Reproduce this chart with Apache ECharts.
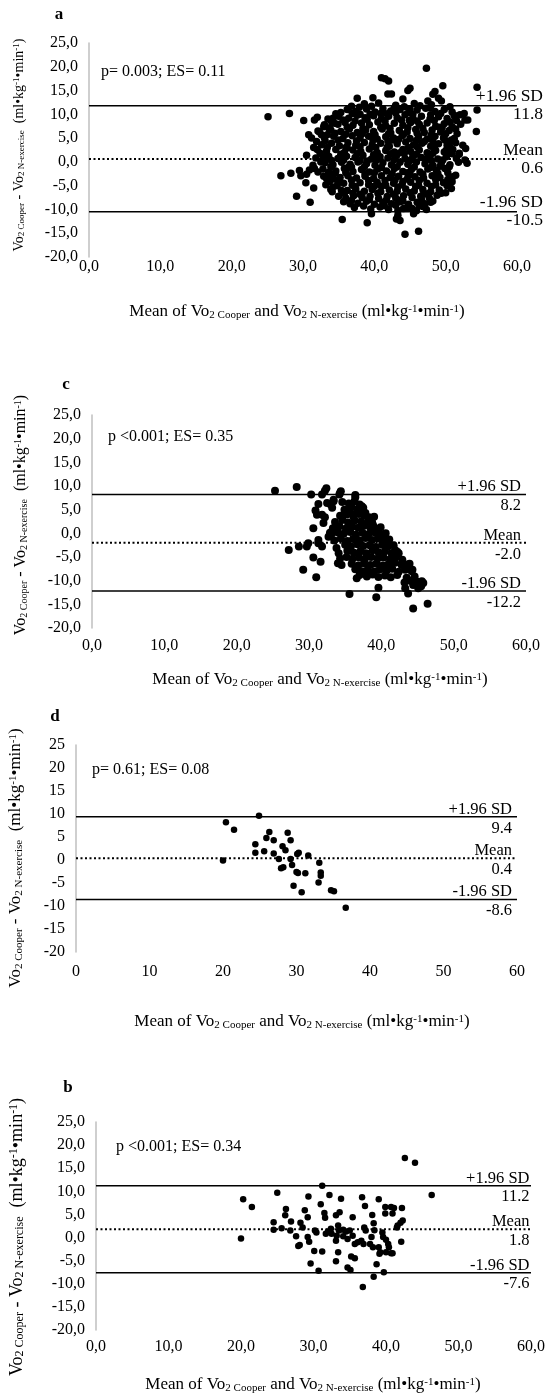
<!DOCTYPE html>
<html><head><meta charset="utf-8">
<script src="https://cdn.jsdelivr.net/npm/echarts@6/dist/echarts.min.js"></script>
<style>html,body{margin:0;padding:0;background:#fff}#c{width:548px;height:1399px}</style>
</head><body><div id="c"></div>
<script>
// ---------------- DATA ----------------
const xTicks = [0, 10, 20, 30, 40, 50, 60];
const yTicks = [-20, -15, -10, -5, 0, 5, 10, 15, 20, 25];
const limitNames = ['+1.96 SD', 'Mean', '-1.96 SD'];

const limitsA = [11.8, 0.6, -10.5];
const limitsC = [8.2, -2.0, -12.2];
const limitsD = [9.4, 0.4, -8.6];
const limitsB = [11.2, 1.8, -7.6];

const statA = 'p= 0.003; ES= 0.11';
const statC = 'p <0.001; ES= 0.35';
const statD = 'p= 0.61; ES= 0.08';
const statB = 'p <0.001; ES= 0.34';

// panel a: [mean of the two methods, difference]
const diffA = [
[25.1,9.5],[28.1,10.2],[30.1,8.7],[31.6,8.8],[32.0,9.4],[30.8,5.7],[31.2,5.0],[31.9,4.3],[32.1,6.5],[31.5,3.0],[32.0,2.6],[33.0,7.8],[33.4,5.7],[34.2,9.2],[34.4,8.1],[33.9,6.7],[30.5,1.4],[26.9,-2.9],[28.3,-2.4],[29.5,-1.8],[29.7,-2.9],[30.5,-2.6],[30.4,-4.4],[30.9,-1.7],[31.6,-1.4],[31.4,-0.7],[31.5,-5.5],[29.1,-7.2],[31.0,-8.5],[32.1,-2.1],[32.5,0.0],[32.8,1.1],[33.3,-3.5],[33.7,-4.2],[34.1,-2.8],[34.2,-5.3],[34.1,-6.3],[35.4,-6.0],[34.9,-4.2],[36.6,-8.8],[35.5,-12.1],[37.6,13.4],
[47.3,19.7],[41.0,17.7],[41.5,17.5],[42.0,17.0],[45.0,15.5],[44.7,15.0],[49.6,16.0],[41.9,14.3],[42.4,14.3],[48.5,14.8],[48.2,14.2],[39.8,13.5],[44.0,13.2],[47.5,12.8],[49.0,13.4],[49.4,12.8],[50.6,11.6],[52.7,8.8],[53.1,8.8],[52.0,9.9],[51.3,9.5],[52.4,3.5],[52.7,0.4],[53.0,-0.3],[51.0,-3.1],[50.9,-4.2],[50.8,-5.6],[47.3,-10.0],[43.3,-10.2],[43.1,-12.0],[43.6,-12.3],[39.0,-12.8],[44.3,-15.2],[46.2,-14.6],[54.4,15.7],[54.4,10.9],[54.3,6.4],[51.4,-2.8],[39.6,-10.9],[45.3,-9.8],[45.5,-10.9],[43.3,-11.2],[51.5,0.7],[51.9,1.8],[50.5,3.5],[50.1,2.5],
[38.6,12.2],[40.6,12.4],[43.0,11.9],[45.6,12.3],[46.4,11.8],[48.0,12.0],[36.8,11.7],
[35.3,10.4],[36.2,11.0],[37.4,10.6],[38.9,11.1],[40.1,10.5],[41.2,11.2],[42.3,10.7],[43.6,11.0],[44.8,10.4],[46.0,10.9],[47.2,11.3],[48.5,10.6],[49.8,11.0],[50.9,10.5],[52.6,10.2],
[33.5,9.0],[35.0,9.6],[36.4,9.2],[37.6,9.8],[38.7,9.3],[39.9,9.7],[41.0,9.1],[42.0,9.6],[43.2,9.3],[44.3,9.9],[45.4,9.2],[46.6,9.6],[47.8,9.0],[49.0,9.5],[50.2,9.1],[51.5,8.7],
[32.9,7.4],[34.9,7.9],[35.9,8.3],[37.0,7.7],[38.2,8.2],[39.3,7.8],[40.5,8.4],[41.6,7.6],[42.8,8.1],[44.0,7.7],[45.1,8.3],[46.3,7.9],[47.4,8.2],[48.6,7.5],[49.8,8.0],[50.9,7.4],[52.1,7.9],
[32.3,6.3],[33.7,6.8],[35.3,6.4],[36.5,6.9],[37.6,6.2],[38.8,6.7],[39.9,6.4],[41.1,6.9],[42.3,6.1],[43.5,6.6],[44.6,6.3],[45.8,6.8],[47.0,6.2],[48.1,6.7],[49.3,6.3],[50.5,6.6],[51.6,5.9],
[33.0,5.1],[34.3,5.4],[35.6,4.9],[36.9,5.5],[38.0,5.0],[39.2,5.4],[40.4,4.8],[41.6,5.3],[42.7,5.0],[43.9,5.5],[45.0,4.9],[46.2,5.3],[47.4,4.8],[48.5,5.4],[49.7,5.0],[50.8,4.6],
[32.6,3.6],[34.0,3.9],[35.1,3.4],[36.3,4.0],[37.4,3.5],[38.6,4.1],[39.7,3.6],[40.9,3.9],[42.1,3.3],[43.2,3.8],[44.4,4.2],[45.5,3.6],[46.7,3.9],[47.9,3.3],[49.0,3.8],[50.2,3.5],[51.4,4.0],[52.8,2.8],
[33.3,2.3],[34.6,2.6],[35.8,2.0],[37.0,2.5],[38.1,2.2],[39.3,2.7],[40.4,2.0],[41.6,2.4],[42.8,2.1],[44.0,2.6],[45.1,2.2],[46.3,2.5],[47.4,1.9],[48.6,2.4],[49.8,2.1],[51.0,2.6],[51.9,1.6],
[31.8,0.8],[33.6,1.2],[34.9,0.7],[36.1,1.2],[37.3,0.9],[38.4,1.4],[39.6,0.6],[40.8,1.1],[41.9,0.8],[43.1,1.3],[44.3,0.7],[45.4,1.2],[46.6,0.9],[47.8,1.4],[48.9,0.6],[50.1,1.1],[50.9,1.7],
[33.1,-0.2],[34.2,-0.6],[35.4,-0.1],[36.6,-0.5],[37.7,0.0],[38.9,-0.4],[40.1,-0.7],[41.2,-0.2],[42.4,-0.6],[43.6,-0.1],[44.7,-0.5],[45.9,0.0],[47.1,-0.4],[48.2,-0.7],[49.4,-0.2],[50.6,-0.6],[51.8,-0.1],
[32.8,-1.5],[34.6,-1.9],[35.8,-1.4],[37.0,-2.0],[38.2,-1.6],[39.3,-2.1],[40.5,-1.5],[41.7,-1.9],[42.8,-1.4],[44.0,-2.0],[45.2,-1.6],[46.4,-2.1],[47.5,-1.5],[48.7,-1.8],[49.9,-1.4],[50.3,-2.3],
[32.9,-3.0],[35.2,-3.3],[36.3,-2.9],[37.5,-3.4],[38.7,-3.0],[39.9,-3.5],[41.0,-2.9],[42.2,-3.3],[43.4,-3.0],[44.6,-3.6],[45.7,-3.1],[46.9,-3.4],[48.1,-2.9],[49.2,-3.3],[50.3,-3.7],
[33.2,-4.8],[35.7,-4.5],[36.9,-4.9],[38.0,-4.4],[39.2,-4.8],[40.4,-4.3],[41.6,-4.9],[42.7,-4.5],[43.9,-4.8],[45.1,-4.3],[46.2,-4.9],[47.4,-4.5],[48.6,-4.8],[49.7,-4.4],
[33.9,-5.8],[36.2,-6.0],[37.4,-5.7],[38.6,-6.2],[39.7,-5.8],[40.9,-6.3],[42.1,-5.9],[43.2,-6.2],[44.4,-5.7],[45.6,-6.1],[46.8,-5.8],[47.9,-6.3],[49.1,-5.9],[50.0,-6.5],
[35.0,-7.2],[36.0,-7.6],[37.1,-7.1],[38.3,-7.5],[39.4,-7.2],[40.6,-7.7],[41.8,-7.3],[43.0,-7.6],[44.1,-7.1],[45.3,-7.5],[46.5,-7.2],[47.7,-7.6],[48.8,-7.0],
[35.7,-8.4],[37.7,-8.7],[38.9,-8.3],[40.0,-8.9],[41.2,-8.5],[42.4,-8.8],[43.6,-8.4],[44.8,-8.9],[46.0,-8.5],[47.1,-8.8],[48.2,-8.2],
[37.2,-9.6],[39.5,-9.9],[40.8,-9.5],[42.0,-10.0],[44.6,-9.6],[45.9,-10.3],[46.8,-9.4],
[36.0,3.0],[39.0,0.2],[41.5,-3.9],[44.2,1.8],[46.9,-6.8],[38.0,10.0],[43.8,8.8],[47.0,4.3],[34.5,-2.4],[40.0,-5.1],[42.5,4.6],[45.0,-2.7],[48.0,0.3],[37.0,-6.6],[49.5,7.2],[36.8,-1.1],[43.3,-8.0],[40.9,10.2],[50.5,-1.0],[34.0,0.3],
[37.9,11.5],[39.6,11.7],[42.8,11.4],[44.2,11.6],[47.8,11.4],[45.0,11.1],
[34.6,10.1],[36.9,10.2],[39.4,10.0],[41.8,10.1],[43.0,10.3],[45.4,10.0],[47.9,9.9],[49.3,10.2],[51.2,9.8],
[34.0,8.5],[35.6,8.8],[37.3,8.6],[39.0,8.9],[41.5,8.6],[44.9,8.7],[46.0,8.6],[48.4,8.7],[50.6,8.4],
[33.7,7.2],[36.2,7.3],[38.4,7.0],[40.9,7.3],[42.2,7.0],[44.7,7.2],[46.8,7.0],[49.1,7.3],[51.4,6.9],
[32.6,5.7],[34.5,6.0],[36.0,5.8],[38.3,5.9],[40.1,5.7],[42.0,5.9],[44.1,5.8],[46.0,6.0],[48.0,5.7],[50.0,5.9],
[33.1,4.4],[34.9,4.6],[37.5,4.4],[39.8,4.6],[41.9,4.4],[43.4,4.7],[45.9,4.5],[48.2,4.4],[49.9,4.6],[51.2,4.9],
[33.4,3.0],[36.2,2.9],[38.0,3.2],[40.2,3.0],[41.8,3.1],[44.8,3.0],[46.0,3.2],[48.4,3.1],[50.6,2.9],
[32.4,1.8],[35.3,1.6],[37.6,1.7],[39.9,1.5],[42.3,1.7],[43.6,1.9],[45.9,1.6],[48.2,1.8],[50.4,1.9],
[33.0,0.5],[35.7,0.4],[38.0,0.3],[40.3,0.4],[42.8,0.5],[45.0,0.3],[47.3,0.5],[49.6,0.4],
[33.9,-1.0],[36.3,-1.2],[38.6,-1.0],[41.0,-1.2],[43.2,-1.0],[45.6,-1.1],[47.9,-1.2],[49.2,-0.9],
[33.6,-2.2],[36.0,-2.3],[38.7,-2.5],[40.0,-2.3],[42.5,-2.5],[44.6,-2.3],[46.8,-2.6],[48.9,-2.4],
[34.3,-3.6],[36.8,-3.8],[39.2,-3.9],[42.9,-3.8],[44.0,-4.1],[46.3,-3.9],[48.6,-3.7],
[34.8,-5.0],[37.3,-5.2],[39.8,-5.3],[41.0,-5.1],[43.3,-5.3],[45.8,-5.2],[48.0,-5.2],[50.2,-5.0],
[35.8,-6.6],[38.0,-6.8],[40.5,-6.6],[42.7,-6.8],[45.0,-6.5],[47.4,-6.7],[49.4,-6.6],
[36.8,-8.1],[39.3,-7.9],[41.7,-8.0],[44.0,-8.2],[46.6,-7.9],[47.9,-8.5],
[38.5,-9.3],[41.4,-9.2],[43.0,-9.1],[44.1,-9.8],[46.3,-9.2]
];

// panel c
const diffC = [
[25.3,9.0],[28.3,9.8],[30.3,8.2],[31.8,8.2],[32.2,9.0],[32.4,9.5],[34.2,8.2],[34.4,8.9],[33.4,6.8],[33.0,6.1],[32.5,6.4],[31.3,6.2],[30.9,4.8],[31.1,3.9],[31.8,3.9],[32.2,3.4],[32.0,2.2],[30.6,1.1],[29.9,-2.1],[29.7,-2.8],[28.6,-2.8],[27.2,-3.5],[30.6,-5.1],[31.6,-6.0],[29.2,-7.7],[31.0,-9.3],[31.3,-2.1],[31.3,-1.4],[31.8,-2.8],[32.7,-0.7],[32.9,0.1],[33.8,-3.1],[34.1,-4.2],[34.3,-5.3],[34.0,-6.3],[34.5,-6.7],[35.6,-12.8],[39.3,-13.5],[39.6,-11.5],[44.4,-15.9],[43.3,-11.6],[43.7,-12.7],[44.4,-10.9],[44.9,-10.2],[45.1,-11.6],[36.6,-9.5],[36.4,7.6],[35.7,5.4],[35.5,4.3],[36.2,3.9],[37.5,5.4],[37.8,4.3],[38.2,2.9],[38.7,2.5],[38.9,1.5],[46.4,-14.9],[45.5,-11.2],[45.8,-10.5],[44.3,-7.7],[43.8,-7.1],[43.9,-6.4],[42.4,-4.2],[41.9,-3.5],[40.5,-0.9],[40.0,-0.2],[39.0,3.5],[37.3,5.7],[36.4,8.1],[34.3,8.6],[33.4,7.1],[33.2,5.4],
[34.6,6.6],[35.5,6.3],[36.3,6.8],[37.0,6.1],
[34.9,5.0],[35.9,5.5],[36.7,5.1],[37.3,4.9],
[34.3,3.7],[35.2,4.0],[36.1,3.6],[36.9,4.1],[37.6,3.8],[38.3,3.4],
[33.6,2.4],[34.6,2.8],[35.4,2.3],[36.3,2.7],[37.2,2.5],[38.0,2.0],[38.8,1.9],
[33.3,1.1],[34.2,1.5],[35.1,1.0],[36.0,1.4],[36.8,1.2],[37.6,1.6],[38.5,1.1],[39.3,0.9],[39.9,1.3],
[33.1,-0.2],[34.0,0.2],[34.8,-0.1],[35.7,0.3],[36.5,-0.3],[37.4,0.1],[38.2,-0.2],[39.1,0.2],[39.9,-0.3],[40.6,0.0],
[33.5,-1.5],[34.4,-1.1],[35.3,-1.6],[36.1,-1.2],[37.0,-1.5],[37.8,-1.0],[38.7,-1.4],[39.5,-1.1],[40.4,-1.6],[41.1,-1.3],
[35.0,-2.4],[35.8,-2.8],[36.7,-2.3],[37.5,-2.7],[38.4,-2.5],[39.2,-2.9],[40.1,-2.4],[40.9,-2.8],[41.7,-2.5],
[35.3,-3.7],[36.2,-4.1],[37.1,-3.8],[37.9,-4.2],[38.8,-3.6],[39.6,-4.0],[40.5,-3.8],[41.4,-4.2],[42.2,-3.9],
[35.2,-5.0],[36.0,-5.4],[36.9,-5.1],[37.7,-5.5],[38.6,-5.0],[39.5,-5.3],[40.3,-5.1],[41.2,-5.5],[42.0,-5.0],[42.9,-5.6],
[35.9,-6.4],[36.8,-6.8],[37.6,-6.3],[38.5,-6.7],[39.3,-6.4],[40.2,-6.8],[41.0,-6.5],[41.9,-6.2],[42.8,-6.7],[43.6,-6.6],
[36.4,-7.6],[37.3,-8.0],[38.1,-7.7],[39.0,-8.1],[39.8,-7.6],[40.7,-7.9],[41.5,-7.5],[42.4,-8.1],[43.3,-7.7],[44.2,-8.0],
[37.0,-8.8],[38.0,-9.1],[38.8,-8.7],[39.6,-9.2],[40.5,-8.9],[41.3,-9.3],[42.2,-8.8],[43.5,-9.4],[44.6,-9.1],
[43.2,-10.4],[44.0,-10.0],[45.0,-10.6],[45.6,-10.1]
];

// panel d
const diffD = [
[20.0,-0.1],[20.4,8.2],[21.5,6.6],[24.9,9.6],[24.4,3.4],[24.4,1.6],[25.6,1.9],[25.9,4.8],[26.3,6.1],[26.9,4.3],[26.9,1.4],[27.6,0.2],[27.9,-1.8],[28.2,-1.6],[28.1,3.0],[28.5,2.1],[28.8,5.9],[29.2,4.3],[29.2,0.2],[29.4,-1.1],[30.1,1.3],[30.3,1.6],[30.0,-2.6],[30.2,-2.8],[31.2,-2.9],[29.6,-5.6],[30.7,-7.0],[31.6,1.0],[33.1,-0.6],[33.3,-2.7],[33.3,-3.4],[33.0,-4.9],[34.7,-6.6],[35.1,-6.8],[36.7,-10.4]
];

// panel b
const diffB = [
[20.3,8.3],[21.5,6.6],[20.0,-0.2],[25.0,9.7],[24.5,3.3],[24.5,1.7],[25.6,2.0],[26.2,6.2],[26.1,4.8],[26.9,3.5],[26.8,1.5],[27.6,0.3],[27.9,-1.8],[28.1,-1.6],[28.2,3.2],[28.5,2.2],[28.8,5.9],[29.2,4.4],[29.2,0.1],[29.4,-0.9],[30.2,1.5],[30.4,1.1],[30.1,-2.9],[31.2,-3.0],[29.6,-5.6],[30.7,-7.2],[29.3,8.9],[31.2,11.2],[31.0,7.2],[31.5,5.3],[31.6,4.3],[32.2,9.2],[32.0,1.3],[31.7,0.8],[32.4,1.9],[32.5,0.8],[33.8,8.4],[33.1,4.8],[33.6,5.5],[33.4,2.6],[33.5,1.5],[33.2,0.4],[33.1,-0.7],[34.1,1.7],[34.5,1.3],[35.0,1.5],[34.1,0.3],[34.7,-0.3],[33.4,-3.2],[33.1,-5.1],[34.7,-6.5],[35.1,-7.0],[35.2,-4.1],[35.7,-4.5],[35.4,4.4],[35.4,0.4],[35.7,-1.4],[36.1,-1.0],[36.7,8.7],[37.1,6.8],[37.0,2.2],[37.2,1.5],[36.6,-0.7],[36.9,-1.4],[36.8,-10.7],[38.1,4.9],[38.3,3.1],[38.4,1.6],[38.0,0.1],[37.8,-1.4],[38.2,-2.1],[39.0,8.3],[39.0,-2.1],[39.2,-3.2],[38.7,-5.8],[38.3,-8.5],[39.7,-7.5],[39.9,6.6],[39.9,5.2],[40.7,6.6],[40.9,5.2],[39.5,1.1],[39.6,0.1],[40.0,-0.5],[40.3,-1.4],[40.4,-2.1],[39.1,-3.5],[40.0,-3.2],[40.7,-3.4],[40.9,-3.4],[41.1,6.4],[42.2,6.4],[41.6,2.6],[42.0,3.2],[42.3,3.7],[41.5,2.2],[42.1,-0.9],[42.6,17.2],[44.0,16.2],[46.3,9.2]
];

// ---------------- LAYOUT / STYLE ----------------
const FONT = "'Liberation Serif','Times New Roman',serif";
const panels = [
  {letter:'a', data:diffA, limits:limitsA, stat:statA, comma:true,  grid:{left:89, top:43, width:428, height:214}, dot:7.5, xMargin:2,  letterPos:[59,15],  statPos:[101,72],  xTitle:[297,312],  yTitle:[19,145],  yTitleSize:14, labFont:17.5, labDx:26,  above:-9,   below:9},
  {letter:'c', data:diffC, limits:limitsC, stat:statC, comma:true,  grid:{left:92, top:415, width:434, height:213}, dot:8,  xMargin:10, letterPos:[66,385], statPos:[108,437], xTitle:[320,680],  yTitle:[21,515],  yTitleSize:16, labFont:16.5, labDx:-5,  above:-7.5, below:11.5},
  {letter:'d', data:diffD, limits:limitsD, stat:statD, comma:false, grid:{left:76, top:745, width:441, height:207}, dot:6.5, xMargin:12, letterPos:[55,717], statPos:[92,770],  xTitle:[302,1022], yTitle:[16,858],  yTitleSize:17, labFont:16.5, labDx:-5,  above:-7.5, below:11.5},
  {letter:'b', data:diffB, limits:limitsB, stat:statB, comma:true,  grid:{left:96, top:1122, width:435, height:208}, dot:6.5, xMargin:9, letterPos:[68,1088], statPos:[116,1147], xTitle:[313,1385], yTitle:[17,1237], yTitleSize:18, labFont:16.5, labDx:-1.5, above:-7.5, below:11}
];

function fmt(comma){ return v => comma ? v.toFixed(1).replace('.', ',') : String(v); }

const option = {animation:false, backgroundColor:'#fff', grid:[], xAxis:[], yAxis:[], series:[]};
panels.forEach((p, i) => {
  option.grid.push(Object.assign({containLabel:false}, p.grid));
  option.xAxis.push({type:'value', gridIndex:i, min:xTicks[0], max:xTicks[xTicks.length-1], interval:10,
    axisLine:{show:false}, axisTick:{show:false}, splitLine:{show:false},
    axisLabel:{margin:p.xMargin, color:'#000', fontFamily:FONT, fontSize:16, formatter:fmt(p.comma)}});
  option.yAxis.push({type:'value', gridIndex:i, min:yTicks[0], max:yTicks[yTicks.length-1], interval:5,
    axisLine:{show:true, onZero:false, lineStyle:{color:'#bfbfbf', width:1.5}}, axisTick:{show:false}, splitLine:{show:false},
    axisLabel:{margin:11, color:'#000', fontFamily:FONT, fontSize:16, formatter:fmt(p.comma)}});
  p.limits.forEach((v, k) => {
    option.series.push({type:'line', xAxisIndex:i, yAxisIndex:i, z:1, symbol:'none', silent:true,
      data:[[xTicks[0], v], [xTicks[xTicks.length-1], v]],
      lineStyle:{color:'#000', width: k===1 ? 2 : 1.5, type: k===1 ? [2,2.5] : 'solid'}});
  });
  option.series.push({type:'scatter', xAxisIndex:i, yAxisIndex:i, z:3, data:p.data, symbol:'circle', symbolSize:p.dot,
    itemStyle:{color:'#000', opacity:1}});
});

const chart = echarts.init(document.getElementById('c'), null, {renderer:'canvas', width:548, height:1399});
chart.setOption(option);

function richSet(size){
  const sub = Math.round(size*0.65);
  return {
    m:{fontFamily:FONT, fontSize:size, lineHeight:size, padding:[3,0,3,0], fill:'#000', color:'#000'},
    s:{fontFamily:FONT, fontSize:sub, lineHeight:sub, verticalAlign:'bottom', fill:'#000', color:'#000'},
    p:{fontFamily:FONT, fontSize:sub, lineHeight:sub, verticalAlign:'top', fill:'#000', color:'#000'}
  };
}
const xTitleText = '{m|Mean of Vo}{s|2 Cooper}{m| and Vo}{s|2 N-exercise}{m| (ml•kg}{p|-1}{m|•min}{p|-1}{m|)}';
const yTitleText = '{m|Vo}{s|2 Cooper}{m| - Vo}{s|2 N-exercise}{m|  (ml•kg}{p|-1}{m|•min}{p|-1}{m|)}';

function txt(x, y, text, font, align, valign, extra){
  return Object.assign({type:'text', x:x, y:y, silent:true, z:10,
    style:{text:text, font:font, fill:'#000', align:align, verticalAlign:valign, textAlign:align, textVerticalAlign:valign}}, extra||{});
}

const graphics = [];
panels.forEach((p, i) => {
  graphics.push(txt(p.letterPos[0], p.letterPos[1], p.letter, 'bold 17px '+FONT, 'center', 'middle'));
  graphics.push(txt(p.statPos[0], p.statPos[1], p.stat, '16px '+FONT, 'left', 'middle'));
  const xt = txt(p.xTitle[0], p.xTitle[1], xTitleText, '17px '+FONT, 'center', 'middle');
  xt.style.rich = richSet(17);
  graphics.push(xt);
  const yt = txt(p.yTitle[0], p.yTitle[1], yTitleText, p.yTitleSize+'px '+FONT, 'center', 'middle', {rotation:Math.PI/2});
  yt.style.rich = richSet(p.yTitleSize);
  graphics.push(yt);
  p.limits.forEach((v, k) => {
    const pt = chart.convertToPixel({gridIndex:i}, [xTicks[xTicks.length-1], v]);
    const rx = pt[0] + p.labDx;
    graphics.push(txt(rx, pt[1] + p.above, limitNames[k], p.labFont+'px '+FONT, 'right', 'middle'));
    graphics.push(txt(rx, pt[1] + p.below, v.toFixed(1), p.labFont+'px '+FONT, 'right', 'middle'));
  });
});
chart.setOption({graphic:{elements:graphics}});
</script></body></html>
